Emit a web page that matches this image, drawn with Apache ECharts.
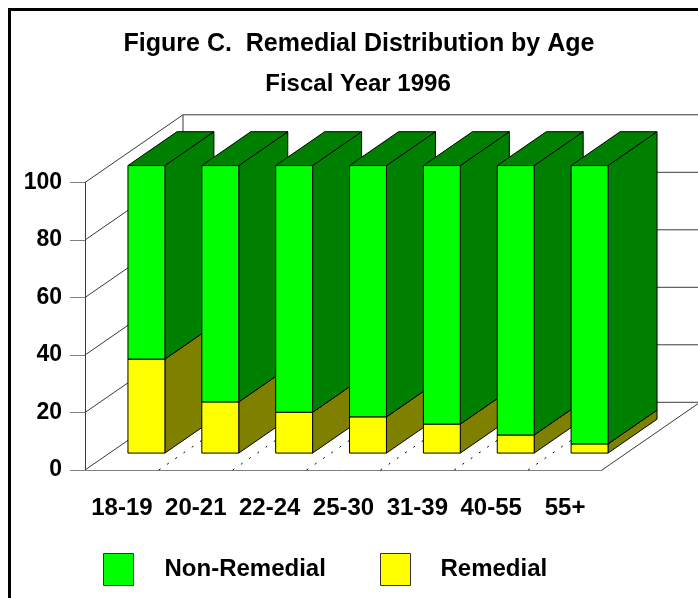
<!DOCTYPE html>
<html>
<head>
<meta charset="utf-8">
<script src="https://cdn.jsdelivr.net/npm/echarts@6/dist/echarts.min.js"></script>
<style>
  html, body { margin: 0; padding: 0; background: #fff; }
  #main { width: 698px; height: 598px; }
</style>
</head>
<body>
<div id="main"></div>
<script>
// age groups and percentages
var categories = ['18-19', '20-21', '22-24', '25-30', '31-39', '40-55', '55+'];
var remedial = [32.7, 17.8, 14.2, 12.6, 10.1, 6.3, 3.2];
var nonRemedial = [67.3, 82.2, 85.8, 87.4, 89.9, 93.7, 96.8];
var yTicks = [0, 20, 40, 60, 80, 100];

// fake 3d: full depth of the box in pixels
var DX = 98, DY = -67.7;
var F0 = 0.25, F1 = 0.75;   // bar front / back as fraction of depth
var FONT = 'Liberation Sans, Arial, sans-serif';

var chart = echarts.init(document.getElementById('main'));

function line(x1, y1, x2, y2, style) {
  return { type: 'line', shape: { x1: x1, y1: y1, x2: x2, y2: y2 }, style: style };
}

function renderWall(params, api) {
  var cs = params.coordSys;
  var v = api.value(1);
  var y = api.coord([0, v])[1];
  var st = { stroke: '#3a3a3a', lineWidth: 1 };
  var kids = [
    line(cs.x, y, cs.x + DX, y + DY, st),
    line(cs.x + DX, y + DY, cs.x + cs.width + DX + 20, y + DY, st)
  ];
  if (v === 0) {
    var yTop = api.coord([0, 100])[1];
    kids.push(line(cs.x + DX, y + DY, cs.x + DX, yTop + DY, st));
    kids.push(line(cs.x + cs.width, y, cs.x + cs.width + DX, y + DY, st));
  }
  return { type: 'group', children: kids };
}

function renderFloor(params, api) {
  var i = api.value(0);
  if (i === 0) return null;
  var bx = api.coord([i, 0])[0] - api.size([1, 0])[0] / 2;
  var y0 = api.coord([i, 0])[1];
  return line(bx, y0, bx + DX, y0 + DY, { stroke: '#000', lineWidth: 1, lineDash: [2, 8] });
}

function makeBox(front, side, level) {
  return function (params, api) {
    var i = api.value(0);
    var base = api.value(1), top = api.value(2);
    var cx = api.coord([i, 0])[0];
    var bw = api.size([1, 0])[0] * 0.5;
    var yb = api.coord([i, base])[1];
    var yt = api.coord([i, top])[1];
    var ax = DX * F0, ay = DY * F0, bx = DX * F1, by = DY * F1;
    var xl = cx - bw / 2, xr = cx + bw / 2;
    var z = i * 10 + level;
    var edge = { stroke: '#000', lineWidth: 1 };
    return {
      type: 'group',
      children: [
        {
          type: 'polygon', z2: z,
          shape: { points: [[xr + ax, yt + ay], [xr + bx, yt + by], [xr + bx, yb + by], [xr + ax, yb + ay]] },
          style: Object.assign({ fill: side }, edge)
        },
        {
          type: 'polygon', z2: z,
          shape: { points: [[xl + ax, yt + ay], [xl + bx, yt + by], [xr + bx, yt + by], [xr + ax, yt + ay]] },
          style: Object.assign({ fill: level === 2 ? '#008000' : side }, edge)
        },
        {
          type: 'rect', z2: z,
          shape: { x: xl + ax, y: yt + ay, width: bw, height: yb - yt },
          style: Object.assign({ fill: front }, edge)
        }
      ]
    };
  };
}

var option = {
  backgroundColor: '#fff',
  animation: false,
  title: [
    {
      text: 'Figure C.  Remedial Distribution by Age',
      left: 359, top: 31, padding: 0, textAlign: 'center',
      textStyle: { fontFamily: FONT, fontSize: 25, fontWeight: 'bold', color: '#000', lineHeight: 26 }
    },
    {
      text: 'Fiscal Year 1996',
      left: 358, top: 71, padding: 0, textAlign: 'center',
      textStyle: { fontFamily: FONT, fontSize: 24, fontWeight: 'bold', color: '#000', lineHeight: 26 }
    }
  ],
  graphic: [{
    type: 'rect', silent: true,
    shape: { x: 9.5, y: 9.5, width: 900, height: 900 },
    style: { fill: 'none', stroke: '#000', lineWidth: 3 }
  }],
  legend: [
    {
      left: 103, top: 553, padding: 0, itemWidth: 30, itemHeight: 32, icon: 'rect',
      data: [{ name: 'Non-Remedial', itemStyle: { color: '#00ff00', borderColor: '#333', borderWidth: 1 } }],
      textStyle: { fontFamily: FONT, fontSize: 24, fontWeight: 'bold', color: '#000', padding: [0, 0, 0, 26] }
    },
    {
      left: 380, top: 553, padding: 0, itemWidth: 30, itemHeight: 32, icon: 'rect',
      data: [{ name: 'Remedial', itemStyle: { color: '#ffff00', borderColor: '#333', borderWidth: 1 } }],
      textStyle: { fontFamily: FONT, fontSize: 24, fontWeight: 'bold', color: '#000', padding: [0, 0, 0, 25] }
    }
  ],
  grid: { left: 85, top: 182.5, width: 517, height: 287.5 },
  xAxis: {
    type: 'category',
    data: categories,
    axisLine: { lineStyle: { color: '#808080', width: 1 } },
    axisTick: { alignWithLabel: true, length: 15, lineStyle: { color: '#555' } },
    axisLabel: { interval: 0, margin: 26, fontFamily: FONT, fontSize: 24, fontWeight: 'bold', color: '#000' }
  },
  yAxis: {
    type: 'value',
    min: 0, max: 100, interval: 20,
    axisLine: { show: true, lineStyle: { color: '#3a3a3a', width: 1 } },
    axisTick: { show: true, length: 15, lineStyle: { color: '#808080' } },
    axisLabel: { margin: 23, fontFamily: FONT, fontSize: 23, fontWeight: 'bold', color: '#000' },
    splitLine: { show: false }
  },
  series: [
    {
      type: 'custom', name: 'walls', z: 1, silent: true,
      renderItem: renderWall,
      encode: { x: 0, y: 1 },
      data: yTicks.map(function (v) { return [0, v]; })
    },
    {
      type: 'custom', name: 'floor', z: 1, silent: true,
      renderItem: renderFloor,
      encode: { x: 0, y: 1 },
      data: categories.map(function (c, i) { return [i, 0]; })
    },
    {
      type: 'custom', name: 'Remedial', z: 2,
      itemStyle: { color: '#ffff00' },
      renderItem: makeBox('#ffff00', '#808000', 1),
      encode: { x: 0, y: 2 },
      data: remedial.map(function (v, i) { return [i, 0, v]; })
    },
    {
      type: 'custom', name: 'Non-Remedial', z: 2,
      itemStyle: { color: '#00ff00' },
      renderItem: makeBox('#00ff00', '#008000', 2),
      encode: { x: 0, y: 2 },
      data: nonRemedial.map(function (v, i) { return [i, remedial[i], remedial[i] + v]; })
    }
  ]
};

chart.setOption(option);
</script>
</body>
</html>
